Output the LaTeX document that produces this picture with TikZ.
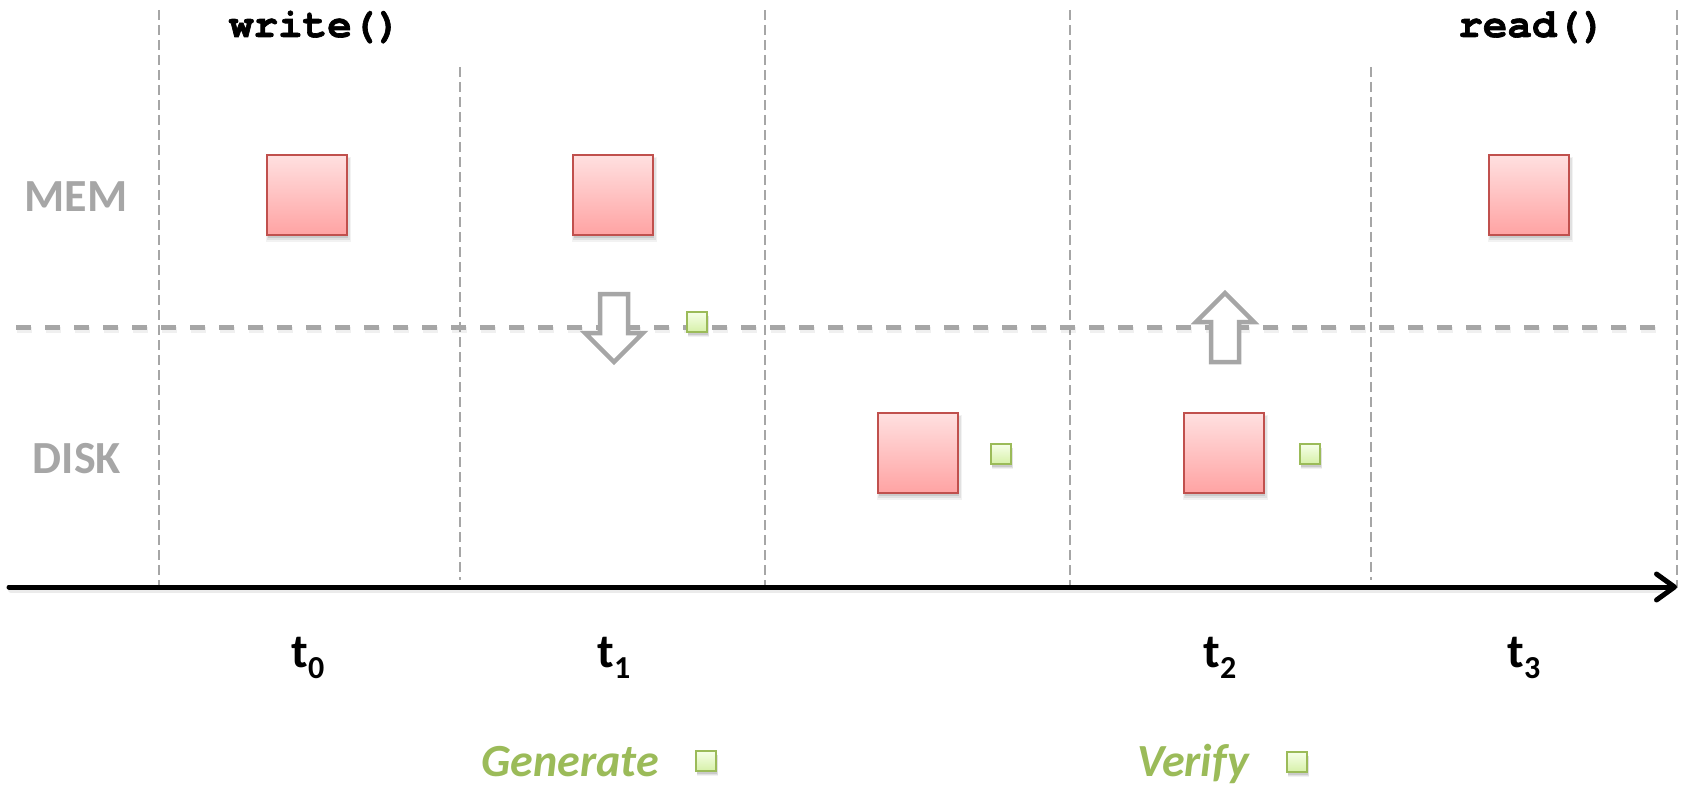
\documentclass[tikz,border=0pt]{standalone}
\usepackage{fontspec}
\setmainfont{Carlito}
\newfontfamily\codefont{texgyrecursor}[Extension=.otf, UprightFont=*-regular, BoldFont=*-bold, BoldFeatures={FakeBold=1.6}]
\usetikzlibrary{arrows.meta,shadows}

\definecolor{guide}{HTML}{A6A6A6}
\definecolor{blockedge}{HTML}{C0504D}
\definecolor{blocktop}{HTML}{FFE0E0}
\definecolor{blockbot}{HTML}{FFA3A3}
\definecolor{sumedge}{HTML}{9BBB59}
\definecolor{sumtop}{HTML}{F6FFE8}
\definecolor{sumbot}{HTML}{D6F0A8}

\newcommand\tlabel[1]{t\raisebox{-11pt}{\fontsize{32}{32}\selectfont #1}}

\begin{document}
\begin{tikzpicture}[x=1pt,y=-1pt,
  vline/.style={guide, line width=1.8pt, dash pattern=on 10pt off 5pt},
  sepline/.style={guide, line width=5pt, dash pattern=on 15pt off 14pt},
  sepshadow/.style={black, opacity=0.06, line width=6pt, dash pattern=on 15pt off 14pt},
  timeaxis/.style={line width=5pt, line cap=round, -{Straight Barb[length=18pt,width=26pt,round]}},
  axisshadow/.style={black, opacity=0.08, line width=6pt, line cap=round},
  softshadow/.style={
    general shadow={shadow xshift=1.5pt, shadow yshift=-4pt, shadow scale=1.06, opacity=0.05, fill=black},
    general shadow={shadow xshift=1.5pt, shadow yshift=-4pt, shadow scale=1.03, opacity=0.07, fill=black},
    general shadow={shadow xshift=1pt, shadow yshift=-3pt, opacity=0.10, fill=black}},
  datablock/.style={rectangle, softshadow, draw=blockedge, line width=2.4pt,
    top color=blocktop, bottom color=blockbot, minimum size=80pt, inner sep=0pt},
  checksum/.style={rectangle, softshadow, draw=sumedge, line width=2.4pt,
    top color=sumtop, bottom color=sumbot, minimum size=20pt, inner sep=0pt},
  flowarrow/.style={draw=guide, fill=white, line width=4.5pt, line join=miter},
  code/.style={font=\codefont\bfseries\fontsize{41}{41}\selectfont, inner sep=0pt, anchor=base},
  rowlabel/.style={font=\bfseries\fontsize{46}{46}\selectfont, text=guide, inner sep=0pt, anchor=base},
  ticklabel/.style={font=\bfseries\fontsize{48}{48}\selectfont, inner sep=0pt, anchor=base},
  legendtext/.style={font=\bfseries\itshape\fontsize{46}{46}\selectfont, text=sumedge, inner sep=0pt, anchor=base}
]
\useasboundingbox (0,0) rectangle (1683,786);

% time slot boundaries
\foreach \x in {159,765,1070,1677} \draw[vline] (\x,10) -- (\x,588);
\foreach \x in {460,1371} \draw[vline] (\x,67) -- (\x,580);

% memory / disk boundary
\draw[sepshadow] (17,329.5) -- (1665,329.5);
\draw[sepline] (16,327) -- (1664,327);

% time axis
\coordinate (axstart) at (9,587);
\coordinate (axend) at (1677,587);
\coordinate (axshstart) at (11,590);
\coordinate (axshend) at (1660,590);
\draw[axisshadow] (axshstart) -- (axshend);
\draw[timeaxis] (axstart) -- (axend);

% row labels
\node[rowlabel] (mem) at (76,212) {MEM};
\node[rowlabel] (disk) at (77,473) {DISK};

% calls
\node[code] (write) at (315,37) {write()};
\node[code] (read) at (1532,37) {read()};

% data blocks
\node[datablock] (b0) at (307,195) {};
\node[datablock] (b1) at (613,195) {};
\node[datablock] (b2) at (918,453) {};
\node[datablock] (b3) at (1224,453) {};
\node[datablock] (b4) at (1529,195) {};

% checksums
\node[checksum] (c1) at (697,322) {};
\node[checksum] (c2) at (1001,454) {};
\node[checksum] (c3) at (1310,454) {};

% write-out and read-back arrows
\draw[flowarrow] (600,294) -- (628,294) -- (628,333) -- (643,333) -- (614,362)
  -- (585,333) -- (600,333) -- cycle;
\draw[flowarrow] (1211,362) -- (1239,362) -- (1239,322) -- (1254,322) -- (1225,293)
  -- (1196,322) -- (1211,322) -- cycle;

% time stamps
\node[ticklabel] (t0) at (308,667) {\tlabel{0}};
\node[ticklabel] (t1) at (614,667) {\tlabel{1}};
\node[ticklabel] (t2) at (1220,667) {\tlabel{2}};
\node[ticklabel] (t3) at (1524,667) {\tlabel{3}};

% legend
\node[legendtext] (gen) at (570,776) {Generate};
\node[checksum] (genbox) at (706,761) {};
\node[legendtext] (ver) at (1193,776) {Verify};
\node[checksum] (verbox) at (1297,762) {};
\end{tikzpicture}
\end{document}
